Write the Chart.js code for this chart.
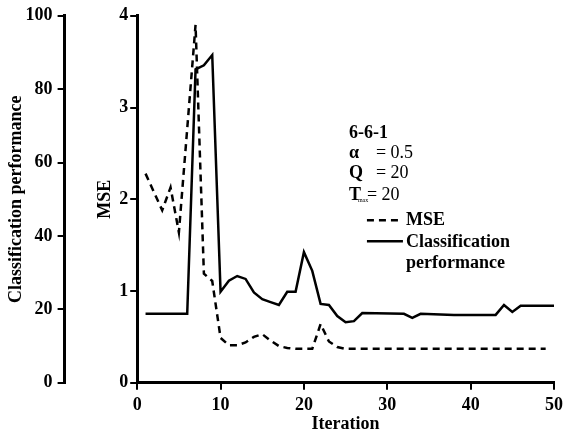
<!DOCTYPE html>
<html>
<head>
<meta charset="utf-8">
<script src="https://cdn.jsdelivr.net/npm/chart.js@4/dist/chart.umd.min.js"></script>
<style>
  html, body { margin: 0; padding: 0; background: #fff; }
  #wrap { width: 563px; height: 437px; }
</style>
</head>
<body>
<div id="wrap"><canvas id="chart" width="563" height="437"></canvas></div>
<script>
// MSE (dashed)
var mseIter = [1, 3, 4, 5, 7, 8, 9, 10, 11, 12, 13, 14, 15, 16, 17, 18, 19, 20, 21, 22, 23, 24, 25, 49];
var mseVals = [2.28, 1.88, 2.13, 1.64, 3.9, 1.19, 1.11, 0.49, 0.41, 0.41, 0.44, 0.5, 0.53, 0.46, 0.40, 0.38, 0.37, 0.37, 0.37, 0.64, 0.45, 0.39, 0.37, 0.37];

// Classification performance (solid)
var cpIter = [1, 6, 7, 8, 9, 10, 11, 12, 13, 14, 15, 16, 17, 18, 19, 20, 21, 22, 23, 24, 25, 26, 27, 32, 33, 34, 38, 43, 44, 45, 46, 50];
var cpVals = [18.8, 18.8, 85.4, 86.5, 89.3, 24.8, 27.8, 29.1, 28.3, 24.6, 22.8, 22, 21.2, 24.8, 24.8, 35.6, 30.5, 21.5, 21.2, 18.2, 16.5, 16.8, 19, 18.8, 17.7, 18.8, 18.5, 18.5, 21.2, 19.3, 21, 21];

var xTicks = [0, 10, 20, 30, 40, 50];
var mseTicks = [0, 1, 2, 3, 4];
var cpTicks = [0, 20, 40, 60, 80, 100];

var notes = ["6-6-1", "\u03b1", "Q", "T"];
var noteVals = ["", "= 0.5", "= 20", "= 20"];

function pts(xs, ys) {
  return xs.map(function(x, i) { return { x: x, y: ys[i] }; });
}

var FONT = "'Liberation Serif', 'Times New Roman', serif";

var notesPlugin = {
  id: "notes",
  afterDraw: function(chart) {
    var ctx = chart.ctx;
    var xs = chart.scales.x, ys = chart.scales.mse;
    var x0 = xs.getPixelForValue(25.4);
    var y0 = ys.getPixelForValue(2.72);
    ctx.save();
    ctx.fillStyle = "#000";
    ctx.textBaseline = "middle";
    ctx.font = "bold 18px " + FONT;
    ctx.fillText(notes[0], x0, y0);
    ctx.fillText(notes[1], x0, y0 + 20);
    ctx.fillText(notes[2], x0, y0 + 40);
    ctx.fillText(notes[3], x0, y0 + 62);
    ctx.font = "18px " + FONT;
    ctx.fillText(noteVals[1], x0 + 27, y0 + 20);
    ctx.fillText(noteVals[2], x0 + 27, y0 + 40);
    ctx.fillText(noteVals[3], x0 + 18, y0 + 62);
    ctx.font = "6px " + FONT;
    ctx.fillText("max", x0 + 9, y0 + 67);
    // series keys
    ctx.strokeStyle = "#000";
    ctx.lineWidth = 2.5;
    ctx.setLineDash([7, 5]);
    ctx.beginPath();
    ctx.moveTo(x0 + 18, y0 + 87);
    ctx.lineTo(x0 + 54, y0 + 87);
    ctx.stroke();
    ctx.setLineDash([]);
    ctx.beginPath();
    ctx.moveTo(x0 + 18, y0 + 108);
    ctx.lineTo(x0 + 54, y0 + 108);
    ctx.stroke();
    ctx.font = "bold 18px " + FONT;
    ctx.fillText("MSE", x0 + 57, y0 + 87);
    ctx.fillText("Classification", x0 + 57, y0 + 109);
    ctx.fillText("performance", x0 + 57, y0 + 130);
    ctx.restore();
  }
};

function axisBase() {
  return {
    border: { color: "#000", width: 3 },
    grid: { display: true, drawOnChartArea: false, drawTicks: true, tickLength: 7, color: "#000", lineWidth: 2 },
    ticks: { color: "#000", font: { family: FONT, size: 18, weight: "bold" }, padding: 2 },
    title: { display: true, color: "#000", font: { family: FONT, size: 18, weight: "bold" } }
  };
}

var xAxis = axisBase();
xAxis.type = "linear";
xAxis.min = 0;
xAxis.max = 50;
xAxis.afterBuildTicks = function(s) { s.ticks = xTicks.map(function(v) { return { value: v }; }); };
xAxis.afterFit = function(s) { s.paddingRight = 9; };
xAxis.ticks.padding = 5;
xAxis.title.text = "Iteration";
xAxis.title.padding = { top: -8, bottom: 0 };

var mseAxis = axisBase();
mseAxis.position = "left";
mseAxis.min = 0;
mseAxis.max = 4;
mseAxis.weight = 0;
mseAxis.afterBuildTicks = function(s) { s.ticks = mseTicks.map(function(v) { return { value: v }; }); };
mseAxis.title.text = "MSE";
mseAxis.title.padding = { top: 30, bottom: 1 };

var cpAxis = axisBase();
cpAxis.position = "left";
cpAxis.min = 0;
cpAxis.max = 100;
cpAxis.weight = 1;
cpAxis.afterBuildTicks = function(s) { s.ticks = cpTicks.map(function(v) { return { value: v }; }); };
cpAxis.ticks.padding = 5;
cpAxis.title.text = "Classification performance";
cpAxis.title.padding = { top: 4, bottom: -7 };

new Chart(document.getElementById("chart"), {
  type: "line",
  data: {
    datasets: [
      {
        label: "MSE",
        data: pts(mseIter, mseVals),
        yAxisID: "mse",
        borderColor: "#000",
        borderWidth: 2.5,
        borderDash: [7, 5],
        pointRadius: 0,
        tension: 0,
        fill: false
      },
      {
        label: "Classification performance",
        data: pts(cpIter, cpVals),
        yAxisID: "cp",
        borderColor: "#000",
        borderWidth: 2.5,
        pointRadius: 0,
        tension: 0,
        fill: false
      }
    ]
  },
  options: {
    responsive: false,
    animation: false,
    layout: { padding: { left: 2, right: 0, top: 12, bottom: 2 } },
    plugins: { legend: { display: false }, tooltip: { enabled: false } },
    scales: { x: xAxis, mse: mseAxis, cp: cpAxis }
  },
  plugins: [notesPlugin]
});
</script>
</body>
</html>
